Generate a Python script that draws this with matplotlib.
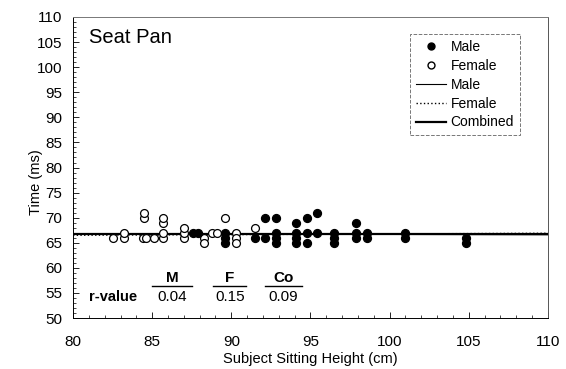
import matplotlib
matplotlib.use('Agg')
import matplotlib.pyplot as plt
from matplotlib.lines import Line2D
from matplotlib.ticker import MultipleLocator

plt.rcParams['font.family'] = ['Liberation Sans', 'DejaVu Sans']

# sitting height (cm) and time (ms)
female_h = [82.5, 83.2, 83.2, 84.4, 84.6, 84.5, 84.5, 85.1, 85.7, 85.7, 85.7, 85.7,
            87.0, 87.0, 87.0, 88.3, 88.3, 88.8, 89.1, 89.6, 90.3, 90.3, 90.3, 91.5]
female_t = [66, 66, 67, 66, 66, 70, 71, 66, 66, 67, 69, 70,
            66, 67, 68, 66, 65, 67, 67, 70, 67, 66, 65, 68]

male_h = [87.6, 87.9, 89.6, 89.6, 89.6, 91.5, 92.1, 92.1, 92.8, 92.8, 92.8, 92.8,
          94.1, 94.1, 94.1, 94.1, 94.8, 94.8, 94.8, 95.4, 95.4, 96.5, 96.5, 96.5,
          97.9, 97.9, 97.9, 98.6, 98.6, 101.0, 101.0, 104.8, 104.8]
male_t = [67, 67, 67, 66, 65, 66, 70, 66, 70, 67, 66, 65,
          69, 67, 66, 65, 70, 67, 65, 71, 67, 67, 66, 65,
          69, 67, 66, 67, 66, 67, 66, 66, 65]

# regression line end points over the plotted range
fit_x = [80, 110]
male_fit = [66.8, 66.6]
female_fit = [66.5, 66.9]
combined_fit = [66.7, 66.7]

r_labels = ['M', 'F', 'Co']
r_values = ['0.04', '0.15', '0.09']

fig = plt.figure(figsize=(5.66, 3.69), dpi=100)
ax = fig.add_axes([0.129, 0.138, 0.839, 0.816])

ax.plot(fit_x, male_fit, color='black', lw=0.8)
ax.plot(fit_x, female_fit, color='black', lw=1.0, ls=':')
ax.plot(fit_x, combined_fit, color='black', lw=1.6)

ax.scatter(female_h, female_t, s=32, facecolors='white', edgecolors='black',
           linewidths=0.9, zorder=3)
ax.scatter(male_h, male_t, s=32, color='black', zorder=3)

ax.set_xlim(80, 110)
ax.set_ylim(50, 110)
ax.xaxis.set_major_locator(MultipleLocator(5))
ax.xaxis.set_minor_locator(MultipleLocator(1))
ax.yaxis.set_major_locator(MultipleLocator(5))
ax.yaxis.set_minor_locator(MultipleLocator(1))
ax.tick_params(which='both', direction='in', top=False, right=False, labelsize=11)
ax.tick_params(which='major', length=4, width=0.6)
ax.tick_params(which='minor', length=2, width=0.5)
ax.tick_params(axis='x', which='major', pad=12)
ax.tick_params(axis='y', which='major', pad=8)
for sp in ax.spines.values():
    sp.set_linewidth(0.7)
ax.spines['top'].set_color('#777777')
ax.spines['right'].set_color('#555555')

ax.set_xlabel('Subject Sitting Height (cm)', fontsize=10.5, labelpad=2)
ax.set_ylabel('Time (ms)', fontsize=10.5)
ax.yaxis.set_label_coords(-0.064, 0.45)

ax.text(81.0, 106.0, 'Seat Pan', fontsize=14.5, ha='left', va='center')

# r-value table
ax.text(82.5, 54.2, 'r-value', fontsize=10.5, fontweight='bold', ha='center', va='center')
r_x = [86.25, 89.9, 93.3]
r_half = [1.25, 1.05, 1.15]
for x, lab, val, hw in zip(r_x, r_labels, r_values, r_half):
    ax.text(x, 58.0, lab, fontsize=11, fontweight='bold', ha='center', va='center')
    ax.plot([x - hw, x + hw], [56.4, 56.4], color='black', lw=1.0)
    ax.text(x, 54.2, val, fontsize=11, ha='center', va='center')

handles = [
    Line2D([], [], marker='o', ls='none', color='black', markersize=5),
    Line2D([], [], marker='o', ls='none', markerfacecolor='white',
           markeredgecolor='black', markersize=5),
    Line2D([], [], color='black', lw=0.8),
    Line2D([], [], color='black', lw=1.0, ls=':'),
    Line2D([], [], color='black', lw=1.6),
]
labels = ['Male', 'Female', 'Male', 'Female', 'Combined']
leg = ax.legend(handles, labels, loc='upper right', bbox_to_anchor=(0.955, 0.965),
                fontsize=10, frameon=True, fancybox=False, handlelength=2.2,
                handletextpad=0.3, borderpad=0.4, labelspacing=0.35)
leg.get_frame().set_edgecolor('#555555')
leg.get_frame().set_linewidth(0.7)
leg.get_frame().set_linestyle('--')

fig.savefig('out.png', dpi=100)
